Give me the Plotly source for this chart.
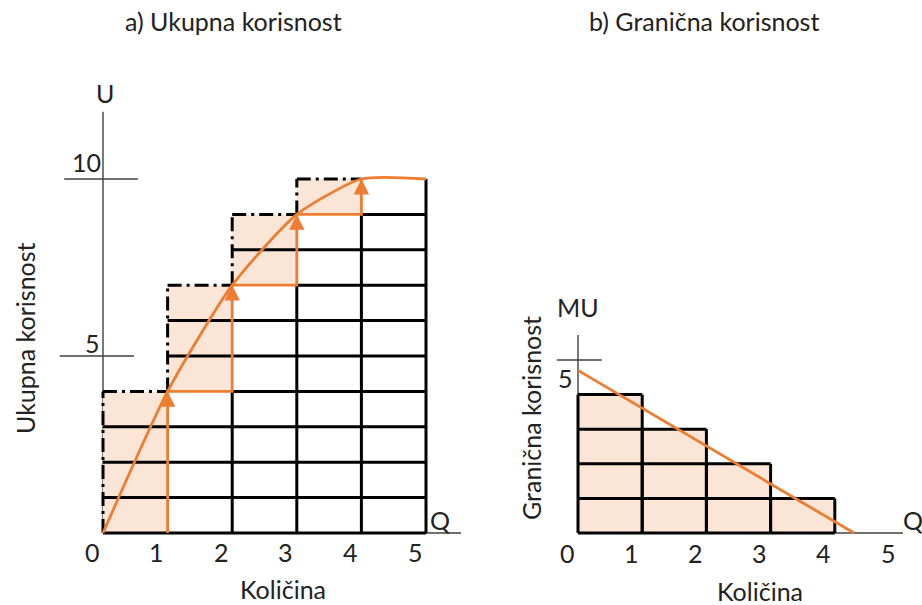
import plotly.graph_objects as go

# ---------------- data ----------------
UNITS = [1, 2, 3, 4, 5]                 # quantity consumed
TU = [4, 7, 9, 10, 10]                  # total utility after each unit
MU = [4, 3, 2, 1]                       # marginal utility of units 1..4
TU_CURVE_Q = [0, 1, 2, 3, 4, 5]
TU_CURVE_U = [0, 4, 7, 9, 10, 10]
MU_LINE_Q = [0, 4.3]
MU_LINE_U = [4.7, 0]
X_TICKS = [0, 1, 2, 3, 4, 5]
U_TICKS = [5, 10]
MU_TICKS = [5]

# ---------------- styles ----------------
W, H = 922, 605
PEACH = "#FBE5D6"
ORANGE = "#ED7D31"
BLACK = "#000000"
THIN = "#404040"
TXT = "#222222"
FONT = "Lato"
FS = 25
GRID_W = 3
DASHDOT = "14px,5px,3px,5px"

# pixel anchors -> axis ranges
L_X0, L_DX = 103, 64.6
L_Y0, L_DY = 533, 35.4
R_X0, R_DX = 578, 64.2
R_Y0, R_DY = 533, 34.6
SPLIT = 461

fig = go.Figure()


def add_line(xs, ys, color, width, dash=None, axis="", fill=None, fillcolor=None, shape="linear", smoothing=1):
    fig.add_trace(go.Scatter(
        x=xs, y=ys, mode="lines",
        line=dict(color=color, width=width, dash=dash, shape=shape, smoothing=smoothing),
        fill=fill, fillcolor=fillcolor, hoverinfo="skip", showlegend=False,
        xaxis="x" + axis, yaxis="y" + axis, connectgaps=False))


def segs(lst):
    xs, ys = [], []
    for (x0, y0, x1, y1) in lst:
        xs += [x0, x1, None]
        ys += [y0, y1, None]
    return xs, ys


# ---------------- left panel: total utility ----------------
prev = [0] + TU[:-1]
n = len(UNITS)

# thin axes & tick marks
add_line(*segs([(0, 0, 0, 11.9), (0, 0, 5.57, 0),
                (-0.6, U_TICKS[1], 0.54, U_TICKS[1]),
                (-0.67, U_TICKS[0], 0.48, U_TICKS[0])]), THIN, 1.4)

# shaded increments
fx, fy = [], []
for i in range(n):
    lo, hi = prev[i], TU[i]
    if hi > lo:
        fx += [i, i + 1, i + 1, i, i, None]
        fy += [lo, lo, hi, hi, lo, None]
add_line(fx, fy, "rgba(0,0,0,0)", 0, fill="toself", fillcolor=PEACH)

# black grid
solid, dd = [], []
solid.append((0, 0, n, 0))
for i in range(n):
    lo, hi = prev[i], TU[i]
    shaded = hi > lo
    for lev in range(1, hi):
        if i > 0 and shaded and lev == lo:
            continue
        solid.append((i, lev, i + 1, lev))
    if prev[i] > 0:
        solid.append((i + 1, 0, i + 1, prev[i]))
    if shaded:
        dd.append((i, hi, i + 1, hi))
        dd.append((i, lo, i, hi))
add_line(*segs(solid), BLACK, GRID_W)
for s in dd:
    add_line(*segs([s]), BLACK, GRID_W, dash=DASHDOT)

# orange staircase
sx, sy = [], []
for i in range(n):
    lo, hi = prev[i], TU[i]
    if hi > lo:
        if i > 0:
            sx += [i]
            sy += [lo]
        sx += [i + 1, i + 1]
        sy += [lo, hi]
add_line(sx, sy, ORANGE, 2.8)

# total utility curve
add_line(TU_CURVE_Q, TU_CURVE_U, ORANGE, 2.8, shape="spline", smoothing=0.6)

annotations = []
for i in range(n):
    if TU[i] > prev[i]:
        annotations.append(dict(x=i + 1, y=TU[i], xref="x", yref="y", ax=0, ay=16,
                                showarrow=True, arrowhead=2, arrowsize=1.1,
                                arrowwidth=2.8, arrowcolor=ORANGE, text=""))

# ---------------- right panel: marginal utility ----------------
add_line(*segs([(0, 0, 0, 5.72), (0, 0, 5.06, 0),
                (-0.33, MU_TICKS[0], 0.37, MU_TICKS[0])]), THIN, 1.4, axis="2")

fx, fy = [], []
rs = []
for i, m in enumerate(MU):
    fx += [i, i + 1, i + 1, i, i, None]
    fy += [0, 0, m, m, 0, None]
    rs += [(i, 0, i + 1, 0), (i + 1, 0, i + 1, m), (i + 1, m, i, m), (i, m, i, 0)]
    for lev in range(1, m):
        rs.append((i, lev, i + 1, lev))
add_line(fx, fy, "rgba(0,0,0,0)", 0, fill="toself", fillcolor=PEACH, axis="2")
add_line(*segs(rs), BLACK, GRID_W, axis="2")
add_line(MU_LINE_Q, MU_LINE_U, ORANGE, 2.8, axis="2")

# ---------------- text ----------------
def txt(text, x, y, xref, yref, xshift=0, yshift=0, angle=0, size=FS):
    annotations.append(dict(text=text, x=x, y=y, xref=xref, yref=yref, xshift=xshift, yshift=yshift,
                            showarrow=False, textangle=angle, xanchor="center", yanchor="middle",
                            font=dict(family=FONT, size=size, color=TXT)))


def ptxt(text, px, py, angle=0, size=FS):
    txt(text, px / W, 1 - py / H, "paper", "paper", angle=angle, size=size)


for v in X_TICKS:
    txt(str(v), v, 0, "x", "y", xshift=-11, yshift=-19)
    txt(str(v), v, 0, "x2", "y2", xshift=-11, yshift=-20)
txt(str(U_TICKS[1]), 0, U_TICKS[1], "x", "y", xshift=-17, yshift=17)
txt(str(U_TICKS[0]), 0, U_TICKS[0], "x", "y", xshift=-11, yshift=13)
txt(str(MU_TICKS[0]), 0, MU_TICKS[0], "x2", "y2", xshift=-13, yshift=-18)

ptxt("a) Ukupna korisnost", 233, 21)
ptxt("b) Granična korisnost", 704, 21)
ptxt("U", 105, 93)
ptxt("Q", 440, 520)
ptxt("MU", 578, 307)
ptxt("Q", 913, 520)
ptxt("Količina", 283, 589)
ptxt("Količina", 760, 591)
ptxt("Ukupna korisnost", 25, 338, angle=-90)
ptxt("Granična korisnost", 531, 418, angle=-90)

# ---------------- layout ----------------
ax_common = dict(visible=False, showgrid=False, zeroline=False, fixedrange=True)
fig.update_layout(
    width=W, height=H, margin=dict(l=0, r=0, t=0, b=0, pad=0), autosize=False,
    paper_bgcolor="white", plot_bgcolor="white",
    xaxis=dict(domain=[0, SPLIT / W], range=[-L_X0 / L_DX, (SPLIT - L_X0) / L_DX], **ax_common),
    yaxis=dict(domain=[0, 1], range=[(L_Y0 - H) / L_DY, L_Y0 / L_DY], **ax_common),
    xaxis2=dict(domain=[SPLIT / W, 1], range=[(SPLIT - R_X0) / R_DX, (W - R_X0) / R_DX], **ax_common),
    yaxis2=dict(domain=[0, 1], range=[(R_Y0 - H) / R_DY, R_Y0 / R_DY], anchor="x2", **ax_common),
    annotations=annotations,
    showlegend=False,
)
fig.update_layout(xaxis2_anchor="y2")

fig.write_html("out.html", config={"displayModeBar": False},
               post_script="document.body.style.margin='0';document.body.style.overflow='hidden';")
